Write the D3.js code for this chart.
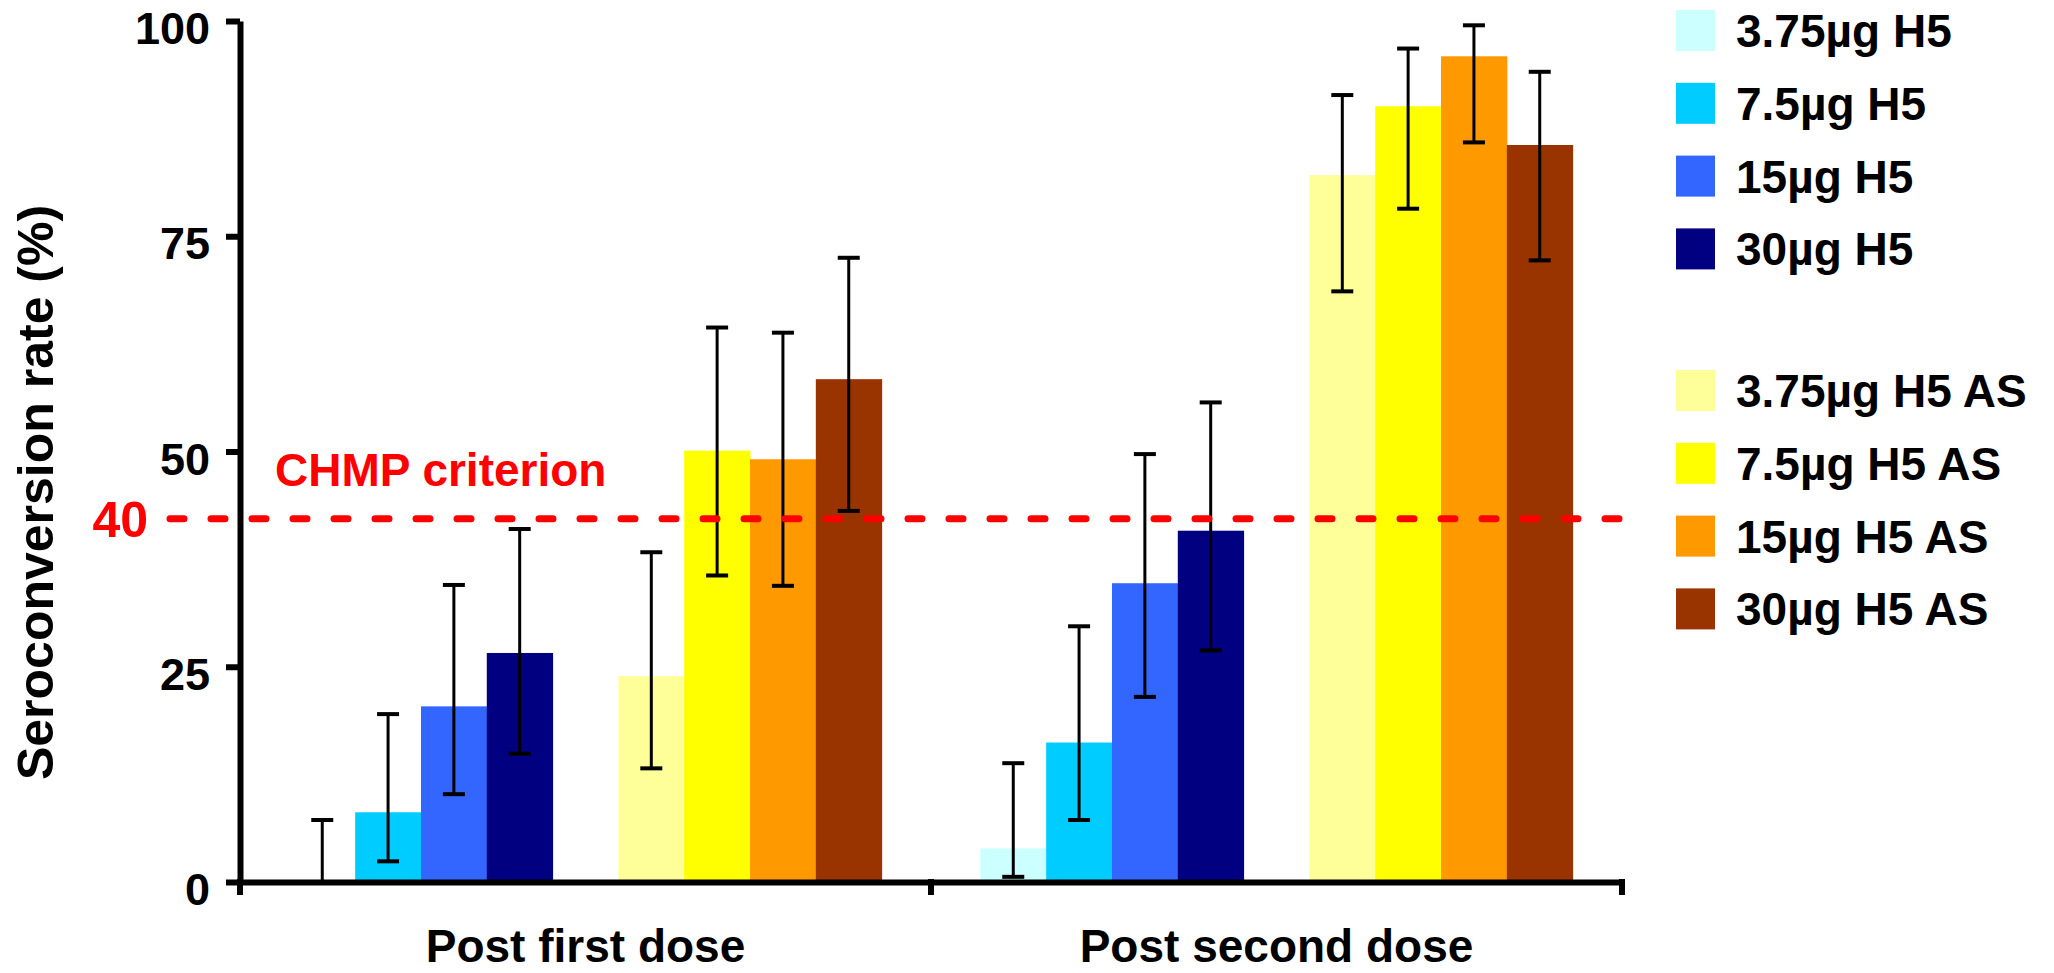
<!DOCTYPE html>
<html>
<head>
<meta charset="utf-8">
<script src="https://cdn.jsdelivr.net/npm/d3@7"></script>
<style>
  body { margin: 0; background: #fff; }
  svg { display: block; font-family: "Liberation Sans", Arial, sans-serif; font-weight: bold; }
</style>
</head>
<body>
<div id="chart"></div>
<script>
// Seroconversion rate by dose group, grouped bars with 95% CI
const categories = ["Post first dose", "Post second dose"];
const series = ["3.75µg H5", "7.5µg H5", "15µg H5", "30µg H5",
                "3.75µg H5 AS", "7.5µg H5 AS", "15µg H5 AS", "30µg H5 AS"];
const colors = ["#CCFFFF", "#00CCFF", "#3366FF", "#000080",
                "#FFFF99", "#FFFF00", "#FF9900", "#993300"];

// values in series order
const firstDose  = [0,   8.1, 20.4, 26.6, 23.9, 50.1, 49.1, 58.4];
const firstLow   = [0,   2.4, 10.2, 14.9, 13.2, 35.6, 34.4, 43.1];
const firstHigh  = [7.2, 19.5, 34.5, 41.0, 38.3, 64.4, 63.8, 72.5];
const secondDose = [3.9, 16.2, 34.7, 40.8, 82.1, 90.1, 95.9, 85.6];
const secondLow  = [0.6, 7.2, 21.5, 26.9, 68.6, 78.2, 85.9, 72.2];
const secondHigh = [13.8, 29.7, 49.7, 55.7, 91.4, 96.8, 99.5, 94.1];

const yTicks = [0, 25, 50, 75, 100];
const criterionLine = 42.2;   // where the dashed line sits in the figure
const criterionLabel = "40";

const rows = categories.map((c, i) => {
  const v = i === 0 ? firstDose : secondDose;
  const lo = i === 0 ? firstLow : secondLow;
  const hi = i === 0 ? firstHigh : secondHigh;
  return series.map((s, j) => ({ cat: c, series: s, color: colors[j], value: v[j], low: lo[j], high: hi[j] }));
});

const W = 2054, H = 973;
const margin = { top: 21, right: 432, bottom: 91, left: 240 };
const width = W - margin.left - margin.right;
const height = H - margin.top - margin.bottom;

const svg = d3.select("#chart").append("svg")
  .attr("width", W).attr("height", H);

const g = svg.append("g").attr("transform", `translate(${margin.left},${margin.top})`);

const x0 = d3.scaleBand().domain(categories).range([0, width]).padding(0);
// spacer slot between plain and adjuvanted groups
const slots = [...series.slice(0, 4), "gap", ...series.slice(4)];
const x1 = d3.scaleBand().domain(slots).range([0, x0.bandwidth()]).paddingInner(0).paddingOuter(0.75);
const y = d3.scaleLinear().domain([0, 100]).range([height, 0]);

// bars
const groups = g.selectAll(".grp")
  .data(rows)
  .join("g")
  .attr("class", "grp")
  .attr("transform", d => `translate(${x0(d[0].cat)},0)`);

groups.selectAll("rect")
  .data(d => d)
  .join("rect")
  .attr("x", d => x1(d.series))
  .attr("y", d => y(d.value))
  .attr("width", x1.bandwidth() + 0.5)
  .attr("height", d => height - y(d.value))
  .attr("fill", d => d.color);

// error bars
const capW = 22;
groups.selectAll(".err")
  .data(d => d)
  .join("line")
  .attr("class", "err")
  .attr("x1", d => x1(d.series) + x1.bandwidth() / 2)
  .attr("x2", d => x1(d.series) + x1.bandwidth() / 2)
  .attr("y1", d => y(d.low))
  .attr("y2", d => y(d.high))
  .attr("stroke", "#000").attr("stroke-width", 3);

["low", "high"].forEach(k => {
  groups.selectAll(".cap-" + k)
    .data(d => d)
    .join("line")
    .attr("class", "cap-" + k)
    .attr("x1", d => x1(d.series) + x1.bandwidth() / 2 - capW / 2)
    .attr("x2", d => x1(d.series) + x1.bandwidth() / 2 + capW / 2)
    .attr("y1", d => y(d[k]))
    .attr("y2", d => y(d[k]))
    .attr("stroke", "#000").attr("stroke-width", 4);
});

// criterion line
g.append("line")
  .attr("x1", -70).attr("x2", width + 5)
  .attr("y1", y(criterionLine)).attr("y2", y(criterionLine))
  .attr("stroke", "#FF0000").attr("stroke-width", 7)
  .attr("stroke-linecap", "round")
  .attr("stroke-dasharray", "14 27");

g.append("text")
  .attr("x", -92).attr("y", y(criterionLine))
  .attr("dy", "0.36em")
  .attr("text-anchor", "end")
  .attr("fill", "#FF0000")
  .attr("font-size", 50)
  .text(criterionLabel);

g.append("text")
  .attr("x", 35).attr("y", y(criterionLine) - 33)
  .attr("fill", "#FF0000")
  .attr("font-size", 46)
  .text("CHMP criterion");

// y axis
const yAxis = g.append("g")
  .call(d3.axisLeft(y).tickValues(yTicks).tickSize(14).tickSizeOuter(0).tickPadding(16));
yAxis.select(".domain").attr("stroke", "#000").attr("stroke-width", 6);
yAxis.selectAll(".tick line").attr("stroke", "#000").attr("stroke-width", 6);
yAxis.selectAll(".tick text")
  .attr("font-size", 45).attr("font-family", "Liberation Sans, Arial, sans-serif")
  .attr("font-weight", "bold").attr("fill", "#000").attr("dy", "0.5em");

// x axis
const xAxis = g.append("g")
  .attr("transform", `translate(0,${height})`)
  .call(d3.axisBottom(x0).tickSize(0).tickSizeOuter(0).tickPadding(47));
xAxis.select(".domain").attr("stroke", "#000").attr("stroke-width", 6);
xAxis.selectAll(".tick text")
  .attr("font-size", 46).attr("font-family", "Liberation Sans, Arial, sans-serif")
  .attr("font-weight", "bold").attr("fill", "#000");

// category boundary ticks
const edges = [...categories.map(c => x0(c)), x0(categories[categories.length - 1]) + x0.bandwidth()];
xAxis.selectAll(".edge")
  .data(edges)
  .join("line")
  .attr("class", "edge")
  .attr("x1", d => d).attr("x2", d => d)
  .attr("y1", -3).attr("y2", 13)
  .attr("stroke", "#000").attr("stroke-width", 6);

// y title
svg.append("text")
  .attr("transform", `translate(53,${margin.top + height / 2 + 41}) rotate(-90)`)
  .attr("text-anchor", "middle")
  .attr("font-size", 50)
  .text("Seroconversion rate (%)");

// legend
const legend = svg.append("g").attr("transform", "translate(1676,10)");
const rowH = 72.8;
const items = legend.selectAll(".item")
  .data(series)
  .join("g")
  .attr("class", "item")
  .attr("transform", (d, i) => `translate(0,${i < 4 ? i * rowH : 360 + (i - 4) * rowH})`);

items.append("rect")
  .attr("width", 39).attr("height", 41)
  .attr("fill", (d, i) => colors[i]);

items.append("text")
  .attr("x", 60).attr("y", 37)
  .attr("font-size", 46)
  .text(d => d);
</script>
</body>
</html>
